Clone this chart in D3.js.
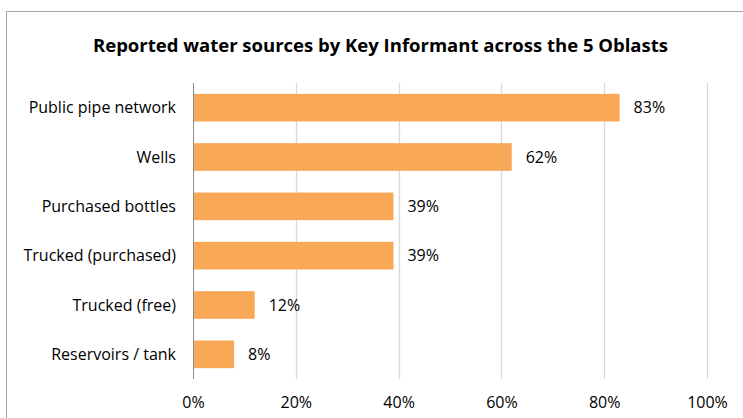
<!DOCTYPE html>
<html>
<head>
<meta charset="utf-8">
<script src="https://cdn.jsdelivr.net/npm/d3@7/dist/d3.min.js"></script>
<style>
  html, body { margin: 0; padding: 0; background: #fff; }
  svg { display: block; font-family: "Open Sans", Lato, sans-serif; }
</style>
</head>
<body>
<svg id="chart" width="743" height="418"></svg>
<script>
// Water sources reported by key informants (share of respondents)
const categories = [
  "Public pipe network",
  "Wells",
  "Purchased bottles",
  "Trucked (purchased)",
  "Trucked (free)",
  "Reservoirs / tank"
];
const values = [0.83, 0.62, 0.39, 0.39, 0.12, 0.08];
const tickValues = [0, 0.2, 0.4, 0.6, 0.8, 1.0];
const title = "Reported water sources by Key Informant across the 5 Oblasts";

const FONT = "'Open Sans', Lato, sans-serif";
const LABEL_SIZE = 16;
const svg = d3.select("#chart");

// Chart area frame
svg.append("rect")
  .attr("x", 6.5).attr("y", 11.5)
  .attr("width", 760).attr("height", 430)
  .attr("fill", "#fff")
  .attr("stroke", "#a6a6a6")
  .attr("stroke-width", 1);

const x = d3.scaleLinear().domain([0, 1]).range([193, 707]);
const y = d3.scaleBand().domain(categories).range([83, 379]).paddingInner(0.44).paddingOuter(0.22);

// Vertical gridlines
svg.append("g")
  .selectAll("line")
  .data(tickValues.slice(1))
  .join("line")
  .attr("x1", d => Math.round(x(d)) + 0.5)
  .attr("x2", d => Math.round(x(d)) + 0.5)
  .attr("y1", 83).attr("y2", 379)
  .attr("stroke", "#d9d9d9")
  .attr("stroke-width", 1.3);

// Bars
svg.append("g")
  .selectAll("rect")
  .data(categories)
  .join("rect")
  .attr("x", x(0))
  .attr("y", d => y(d))
  .attr("width", (d, i) => x(values[i]) - x(0))
  .attr("height", y.bandwidth())
  .attr("fill", "#f9a857");

// Category axis line
svg.append("line")
  .attr("x1", Math.round(x(0)) + 0.5).attr("x2", Math.round(x(0)) + 0.5)
  .attr("y1", 83).attr("y2", 379)
  .attr("stroke", "#8c8c8c")
  .attr("stroke-width", 1);

// Category labels
svg.append("g")
  .selectAll("text")
  .data(categories)
  .join("text")
  .attr("x", 176)
  .attr("y", d => y(d) + y.bandwidth() / 2)
  .attr("dy", "0.35em")
  .attr("text-anchor", "end")
  .attr("font-size", LABEL_SIZE)
  .attr("fill", "#000")
  .text(d => d);

// Value labels
svg.append("g")
  .selectAll("text")
  .data(categories)
  .join("text")
  .attr("x", (d, i) => x(values[i]) + 14)
  .attr("y", d => y(d) + y.bandwidth() / 2)
  .attr("dy", "0.35em")
  .attr("font-size", LABEL_SIZE)
  .attr("fill", "#000")
  .text((d, i) => d3.format(".0%")(values[i]));

// Percentage axis labels
const xAxis = d3.axisBottom(x)
  .tickValues(tickValues)
  .tickFormat(d3.format(".0%"))
  .tickSize(0)
  .tickPadding(0);
const gx = svg.append("g").attr("transform", "translate(0,397)").call(xAxis);
gx.select(".domain").remove();
gx.selectAll("text")
  .attr("font-size", LABEL_SIZE)
  .attr("font-family", FONT)
  .attr("fill", "#000");

// Title
svg.append("text")
  .attr("x", 380.5)
  .attr("y", 46)
  .attr("dy", "0.35em")
  .attr("text-anchor", "middle")
  .attr("font-size", 18.5)
  .attr("font-weight", "bold")
  .attr("fill", "#000")
  .text(title);
</script>
</body>
</html>
